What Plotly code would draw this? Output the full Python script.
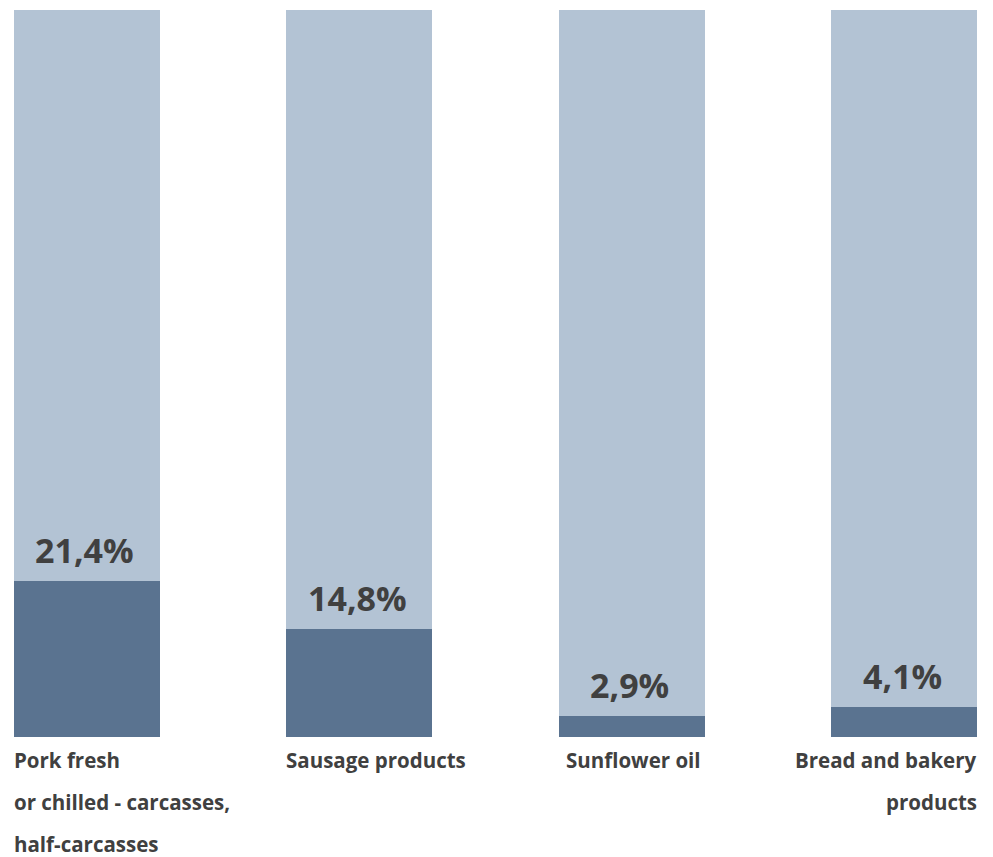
import plotly.graph_objects as go

categories = ["Pork fresh or chilled - carcasses, half-carcasses",
              "Sausage products", "Sunflower oil", "Bread and bakery products"]
category_lines = [["Pork fresh", "or chilled - carcasses,", "half-carcasses"],
                  ["Sausage products"],
                  ["Sunflower oil"],
                  ["Bread and bakery", "products"]]
label_align = ["left", "left", "right", "right"]
share = [21.4, 14.8, 2.9, 4.1]
rest = [100 - v for v in share]
value_labels = ["21,4%", "14,8%", "2,9%", "4,1%"]

DARK = "#5a7390"
LIGHT = "#b3c3d4"
TXT = "#404040"
FONT = "Open Sans"
W = 0.536

x = list(range(len(categories)))
fig = go.Figure()
fig.add_bar(x=x, y=share, width=W, marker_color=DARK, marker_line_width=0, hoverinfo="skip")
fig.add_bar(x=x, y=rest, width=W, marker_color=LIGHT, marker_line_width=0, hoverinfo="skip")

for i, v in enumerate(share):
    fig.add_annotation(x=i, y=v, xref="x", yref="y", text="<b>%s</b>" % value_labels[i],
                       showarrow=False, yanchor="middle", yshift=31, xshift=-2,
                       font=dict(family=FONT, size=34, color=TXT))
    al = label_align[i]
    if al == "left":
        xa, xanchor, xs = i - W / 2, "left", -2
    else:
        xa, xanchor, xs = i + W / 2, "right", (2 if i == 3 else -2)
    for j, line in enumerate(category_lines[i]):
        fig.add_annotation(x=xa, y=0, xref="x", yref="y", text="<b>%s</b>" % line,
                           showarrow=False, xanchor=xanchor, yanchor="middle",
                           xshift=xs, yshift=-(23 + 42 * j),
                           font=dict(family=FONT, size=20.5, color=TXT))

fig.update_layout(
    barmode="stack", width=993, height=857,
    margin=dict(l=6, r=24, t=2, b=128),
    paper_bgcolor="white", plot_bgcolor="white", showlegend=False,
    xaxis=dict(range=[-W / 2, 3 + W / 2], visible=False, fixedrange=True),
    yaxis=dict(range=[0, 100], visible=False, fixedrange=True),
)
fig.write_html("out.html")
